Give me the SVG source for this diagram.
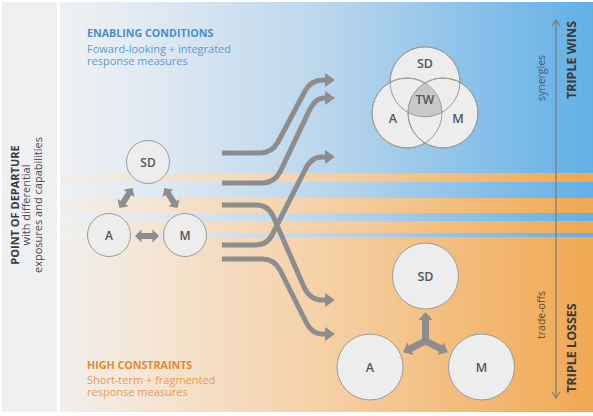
<svg xmlns="http://www.w3.org/2000/svg" width="593" height="416" viewBox="0 0 593 416">
<defs>
<linearGradient id="gBlue" gradientUnits="userSpaceOnUse" x1="60" y1="0" x2="593" y2="0">
<stop offset="0" stop-color="#eff1f3"/>
<stop offset="0.15" stop-color="#e2eaf2"/>
<stop offset="0.5" stop-color="#bad6ec"/>
<stop offset="1" stop-color="#62b0e6"/>
</linearGradient>
<linearGradient id="gOrange" gradientUnits="userSpaceOnUse" x1="60" y1="0" x2="593" y2="0">
<stop offset="0" stop-color="#f1efed"/>
<stop offset="0.15" stop-color="#f4e6d6"/>
<stop offset="0.5" stop-color="#f5d0a5"/>
<stop offset="1" stop-color="#f0a852"/>
</linearGradient>
<clipPath id="cA"><circle cx="407" cy="113" r="35"/></clipPath>
<clipPath id="cM"><circle cx="443" cy="113" r="35"/></clipPath>
<marker id="ah" viewBox="0 0 10 14" refX="1" refY="7" markerWidth="10" markerHeight="14" markerUnits="userSpaceOnUse" orient="auto">
<path d="M0,0 L10,7 L0,14 Z" fill="#8d8d8d"/>
</marker>
</defs>
<style>
.bar{fill:#eff0f2}
.node{fill:#ededed;stroke:#9b9b9b;stroke-width:1}
.ring{fill:none;stroke:#9b9b9b;stroke-width:1}
.lbl{font-family:"Open Sans","Liberation Sans",sans-serif;font-weight:600;fill:#555;text-anchor:middle}
.flow{fill:none;stroke:#8d8d8d;stroke-width:5;marker-end:url(#ah)}
.garrow{fill:#8d8d8d}
.t{font-family:"Open Sans","Liberation Sans",sans-serif}
</style>
<rect width="593" height="416" fill="#ffffff"/>
<!-- left bar -->
<rect class="bar" x="2" y="2" width="55" height="410"/>
<g class="t" fill="#3a3a3a" text-anchor="middle" font-size="11">
<text transform="translate(18.5,205) rotate(-90)" font-weight="700">POINT OF DEPARTURE</text>
<text transform="translate(30,205) rotate(-90)" fill="#4a4a4a">with differential<tspan x="0" dy="11.5">exposures and capabilities</tspan></text>
</g>
<!-- main panel bands -->
<g id="background">
<rect x="60" y="2" width="533" height="171" fill="url(#gBlue)"/>
<rect x="60" y="173" width="533" height="9" fill="url(#gOrange)"/>
<rect x="60" y="182" width="533" height="16" fill="url(#gBlue)"/>
<rect x="60" y="198" width="533" height="15" fill="url(#gOrange)"/>
<rect x="60" y="213" width="533" height="8" fill="url(#gBlue)"/>
<rect x="60" y="221" width="533" height="12" fill="url(#gOrange)"/>
<rect x="60" y="233" width="533" height="4" fill="url(#gBlue)"/>
<rect x="60" y="237" width="533" height="175" fill="url(#gOrange)"/>
</g>
<!-- headings -->
<g class="t">
<text x="87" y="37" font-size="10.7" font-weight="700" fill="#4b8fc6">ENABLING CONDITIONS</text>
<text x="87" y="52.5" font-size="11" fill="#5b9bd0">Foward-looking + integrated<tspan x="87" dy="12">response measures</tspan></text>
<text x="87" y="369" font-size="10.7" font-weight="700" fill="#e0893a">HIGH CONSTRAINTS</text>
<text x="87" y="383.5" font-size="11" fill="#e69a55">Short-term + fragmented<tspan x="87" dy="12">response measures</tspan></text>
</g>
<!-- right scale -->
<g id="scale">
<line x1="556" y1="21" x2="556" y2="397" stroke="#7a7a7a" stroke-width="1.2"/>
<polyline points="552,26 556,20 560,26" fill="none" stroke="#7a7a7a" stroke-width="1.2"/>
<polyline points="552,392 556,398 560,392" fill="none" stroke="#7a7a7a" stroke-width="1.2"/>
<g class="t" text-anchor="middle">
<text transform="translate(545,78) rotate(-90)" font-size="10.5" fill="#4a5a6a">synergies</text>
<text transform="translate(545,315) rotate(-90)" font-size="10.5" fill="#5a4a3a">trade-offs</text>
<text transform="translate(576,60) rotate(-90)" font-size="12.5" font-weight="700" fill="#3a3a3a">TRIPLE WINS</text>
<text transform="translate(576,348) rotate(-90)" font-size="12.5" font-weight="700" fill="#3a3a3a">TRIPLE LOSSES</text>
</g>
</g>
<!-- left nodes -->
<g id="start-SD"><circle class="node" cx="148" cy="162" r="21.5"/><text class="lbl" x="148" y="166.5" font-size="12">SD</text></g>
<g id="start-A"><circle class="node" cx="109" cy="235" r="21.5"/><text class="lbl" x="109" y="239.5" font-size="12">A</text></g>
<g id="start-M"><circle class="node" cx="185" cy="235" r="21.5"/><text class="lbl" x="185" y="239.5" font-size="12">M</text></g>
<g id="start-links" class="garrow">
<path transform="translate(126,198) rotate(-57)" d="M-12,0 L-5.5,-6.5 L-5.5,-3 L5.5,-3 L5.5,-6.5 L12,0 L5.5,6.5 L5.5,3 L-5.5,3 L-5.5,6.5 Z"/>
<path transform="translate(171,198) rotate(57)" d="M-12,0 L-5.5,-6.5 L-5.5,-3 L5.5,-3 L5.5,-6.5 L12,0 L5.5,6.5 L5.5,3 L-5.5,3 L-5.5,6.5 Z"/>
<path transform="translate(147,236)" d="M-12,0 L-5.5,-6.5 L-5.5,-3 L5.5,-3 L5.5,-6.5 L12,0 L5.5,6.5 L5.5,3 L-5.5,3 L-5.5,6.5 Z"/>
</g>
<!-- connectors -->
<g id="connectors">
<path class="flow" d="M222,153 H260 Q272,153 278,142 L305,91 Q311,80 323,80 H326"/>
<path class="flow" d="M222,183 H262 Q274,183 280,172 L310,109 Q316,98 324,98 H326"/>
<path class="flow" d="M222,205 H256 Q268,205 273,216 L304,287 Q310,300 322,300 H326"/>
<path class="flow" d="M222,245 H255 Q268,245 273,233 L305,170 Q311,157 322,157 H326"/>
<path class="flow" d="M222,259 H262 Q274,259 280,270 L306,322 Q312,334 322,334 H326"/>
</g>
<!-- triple wins venn -->
<g id="triple-wins">
<circle class="node" cx="425" cy="81.8" r="35"/>
<circle class="node" cx="407" cy="113" r="35"/>
<circle class="node" cx="443" cy="113" r="35"/>
<g clip-path="url(#cA)"><g clip-path="url(#cM)"><circle cx="425" cy="81.8" r="35" fill="#c9c9c9"/></g></g>
<circle class="ring" cx="425" cy="81.8" r="35"/>
<circle class="ring" cx="407" cy="113" r="35"/>
<circle class="ring" cx="443" cy="113" r="35"/>
<text class="lbl" x="425" y="68" font-size="12.5">SD</text>
<text class="lbl" x="425" y="104" font-size="12.5">TW</text>
<text class="lbl" x="393" y="123" font-size="12.5">A</text>
<text class="lbl" x="458" y="123" font-size="12.5">M</text>
</g>
<!-- triple losses -->
<g id="loss-SD"><circle class="node" cx="425.5" cy="276" r="33"/><text class="lbl" x="425.5" y="280.5" font-size="12.5">SD</text></g>
<g id="loss-A"><circle class="node" cx="370" cy="367" r="33"/><text class="lbl" x="370" y="371.5" font-size="12.5">A</text></g>
<g id="loss-M"><circle class="node" cx="481.5" cy="367" r="33"/><text class="lbl" x="481.5" y="371.5" font-size="12.5">M</text></g>
<g id="loss-links" class="garrow">
<path transform="translate(425.5,341) rotate(-90)" d="M0,-3.5 L21,-3.5 L21,-7 L29,0 L21,7 L21,3.5 L0,3.5 Z"/>
<path transform="translate(425.5,341) rotate(153)" d="M0,-3.5 L17,-3.5 L17,-7 L25,0 L17,7 L17,3.5 L0,3.5 Z"/>
<path transform="translate(425.5,341) rotate(27)" d="M0,-3.5 L17,-3.5 L17,-7 L25,0 L17,7 L17,3.5 L0,3.5 Z"/>
</g>
</svg>
